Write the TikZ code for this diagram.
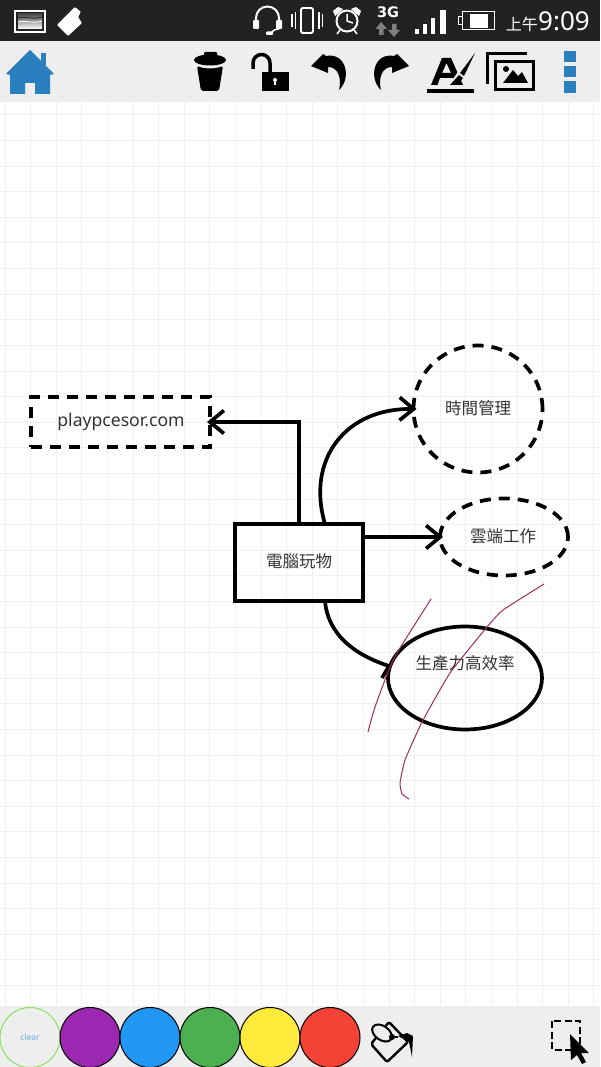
\documentclass[tikz,border=0pt]{standalone}
\usepackage{fontspec}
\setmainfont{Noto Sans}
\newfontfamily\cjk{Noto Sans CJK TC}
\newfontfamily\dejab{DejaVu Sans}
\usetikzlibrary{shapes.geometric,arrows.meta,calc}
\definecolor{statusbar}{HTML}{222222}
\definecolor{toolbar}{HTML}{EEEEEE}
\definecolor{gridc}{HTML}{F0F0F0}
\definecolor{homeblue}{HTML}{2A7FBF}
\definecolor{ink}{HTML}{333333}
\definecolor{pen}{HTML}{9C2F5C}
\definecolor{cpurple}{HTML}{9C27B0}
\definecolor{cblue}{HTML}{2196F3}
\definecolor{cgreen}{HTML}{4CAF50}
\definecolor{cyellow}{HTML}{FFEB3B}
\definecolor{cred}{HTML}{F44336}
\definecolor{clearg}{HTML}{8BE05A}
\definecolor{cleart}{HTML}{6FA8DC}
\tikzset{
  shapeline/.style={draw=black,line width=3.7pt,inner sep=0pt,outer sep=0pt},
  dashline/.style={shapeline,dash pattern=on 11pt off 8pt},
  label/.style={text=ink,inner sep=0pt,font=\cjk\fontsize{16.5}{18}\selectfont},
  conn/.style={draw=black,line width=3.7pt},
  arr/.style={conn,shorten >=-3pt,-{Straight Barb[length=14pt,width=23pt]}},
  penline/.style={draw=pen,line width=1pt,line cap=round,line join=round},
  swatch/.style={circle,draw=black,line width=1pt,minimum size=60pt,inner sep=0pt}
}
\begin{document}
\begin{tikzpicture}[x=1pt,y=-1pt]
\useasboundingbox (0,0) rectangle (600,1067);
\fill[white] (0,0) rectangle (600,1067);
% grid
\foreach \i in {0,...,23}
  \draw[gridc,line width=1pt] ({5+25.6*\i},102) -- ({5+25.6*\i},1006);
\foreach \i in {0,...,35}
  \draw[gridc,line width=1pt] (0,{115+25.6*\i}) -- (600,{115+25.6*\i});
% bars
\fill[statusbar] (0,0) rectangle (600,41);
\fill[toolbar] (0,41) rectangle (600,102);
\fill[toolbar] (0,1006) rectangle (600,1067);
% diagram nodes
\node[shapeline,minimum width=128pt,minimum height=77pt] (box) at (299,562.5) {};
\node[dashline,minimum width=179pt,minimum height=50pt] (site) at (120.5,422) {};
\node[dashline,ellipse,minimum width=129pt,minimum height=127pt] (time) at (478,409) {};
\node[dashline,ellipse,minimum width=128pt,minimum height=77pt] (cloud) at (504,537) {};
\node[shapeline,ellipse,minimum width=154pt,minimum height=103pt] (eff) at (465,678) {};
\node[label] (boxt) at (299,561) {電腦玩物};
\node[label,font=\fontsize{17.6}{19}\selectfont] (sitet) at (121,422) {playpcesor.com};
\node[label] (timet) at (478,408) {時間管理};
\node[label] (cloudt) at (503,536) {雲端工作};
\node[label] (efft) at (465,663) {生產力高效率};
\coordinate (efftip) at (389,666);
\coordinate (effbarb) at (382,678);
% connectors
\draw[arr] (box.north) |- (site.east);
\draw[arr] ([xshift=-38pt]box.north east) .. controls (306,460) and (345,408) .. (time.west);
\draw[arr] ([yshift=25.5pt]box.east) -- (cloud.west);
\draw[conn,line join=round] ([xshift=-38pt]box.south east) .. controls (328,635) and (355,655) .. (efftip) -- (effbarb);
% pen strokes
\draw[penline] plot[smooth,tension=0.4] coordinates {(431,599) (400,648) (390,667) (375,707) (368,732)};
\draw[penline] plot[smooth,tension=0.25] coordinates {(544,584) (503,610) (487,627) (450,673) (422,722) (405,760) (400,783) (402,794) (409,799)};
% status bar left
\draw[white,line width=1.5pt] (15,11) rectangle (45,32);
\shade[top color=gray!60!black,bottom color=white,shading angle=0] (18,14) rectangle (42,29);
\draw[gray!40!black,line width=1pt] (18,18) .. controls (26,16) and (34,20) .. (42,17);
\draw[white,line width=0.8pt] (18,22) .. controls (26,20) and (34,24) .. (42,21);
\fill[white,rounded corners=1pt] (57,25) -- (75,7) -- (81,12) -- (78,17) -- (82,23) -- (68,36) -- cycle;
% headphones
\draw[white,line width=2pt] (256,24) -- (256,18) arc[start angle=180,end angle=360,radius=11.5] -- (279,24);
\fill[white,rounded corners=1pt] (253,20) rectangle (259,29);
\fill[white,rounded corners=1pt] (276,20) rectangle (282,29);
\draw[white,line width=1.5pt] (279,29) to[bend right=30] (271,33.5);
\fill[white,rounded corners=1pt] (266,31.5) rectangle (273,35);
% vibrate
\draw[white,line width=1.2pt] (292,14) -- (292,27) (295.5,12) -- (295.5,29);
\draw[white,line width=1.8pt,rounded corners=1.5pt] (301,8) rectangle (313,33);
\draw[white,line width=1.2pt] (319,12) -- (319,29) (322.5,14) -- (322.5,27);
% alarm
\draw[white,line width=2pt] (347,21) circle[radius=10.5];
\draw[white,line width=1.5pt] (347,14) -- (347,21) -- (353,23);
\fill[white] (335,16) -- (333,11) -- (338,7) -- (343,9) -- cycle;
\fill[white] (359,16) -- (361,11) -- (356,7) -- (351,9) -- cycle;
\draw[white,line width=1.5pt] (340,30) -- (337,34) (354,30) -- (357,34);
% 3G
\node[inner sep=0pt,text=white,font=\dejab\bfseries\fontsize{14.5}{15}\selectfont] (threeg) at (388,12.5) {3G};
\fill[gray] (381,22) -- (387,29) -- (383.5,29) -- (383.5,35) -- (379,35) -- (379,29) -- (375.5,29) -- cycle;
\fill[gray] (394,37) -- (400,30) -- (396.5,30) -- (396.5,24) -- (392,24) -- (392,30) -- (388,30) -- cycle;
% signal
\fill[white] (415,29) rectangle (419,34);
\fill[white] (423,24) rectangle (427,34);
\fill[white] (431,18) rectangle (435,34);
\fill[white] (440,10) rectangle (446,34);
% battery
\draw[white,line width=1pt] (462,12) rectangle (494,30);
\draw[white,line width=1pt] (462,17) -- (458,17) -- (458,25) -- (462,25);
\fill[white] (470,14.5) rectangle (488,28);
% time
\node[inner sep=0pt,anchor=east,text=white,font=\fontsize{26}{28}\selectfont] (clock) at (590,21) {9:09};
\node[inner sep=0pt,anchor=east,text=white,font=\cjk\fontsize{16}{18}\selectfont] (ampm) at (538,24) {上午};
% home
\fill[homeblue] (40.7,53) rectangle (46,65);
\fill[homeblue] (6,74) -- (30,50) -- (54,74) -- (50,75) -- (50,94) -- (35,94) -- (35,83) -- (25,83) -- (25,94) -- (10,94) -- (10,75) -- cycle;
% trash
\fill[black,rounded corners=1pt] (204,56) rectangle (217,52);
\fill[black] (210,60) ellipse[x radius=16,y radius=5.5];
\fill[black,rounded corners=2pt] (197,66) .. controls (205,69) and (215,69) .. (223,66) -- (219,91) -- (201,91) -- cycle;
% lock
\draw[black,line width=3.5pt] (253,69) -- (253,63) arc[start angle=180,end angle=360,radius=8.5] -- (270,72);
\fill[black] (262,72) rectangle (289,91);
\fill[white] (275,80) circle[radius=2];
\fill[white] (274,80) rectangle (276,85);
% undo and redo
\fill[black] (311,66) -- (328,73) -- (328,67) .. controls (338,67) and (342,78) .. (339,90) .. controls (352,78) and (346,52) .. (326,56) -- (323,54) -- cycle;
\fill[black] (409,66) -- (392,73) -- (392,67) .. controls (382,67) and (378,78) .. (381,90) .. controls (368,78) and (374,52) .. (394,56) -- (397,54) -- cycle;
% text style icon
\fill[black,even odd rule] (431,85) -- (442,58) -- (451,58) -- (463,85) -- (456,85) -- (453,78) -- (440,78) -- (437.5,85) -- cycle (442,73) -- (451,73) -- (446.5,63) -- cycle;
\draw[toolbar,line width=6pt] (473,56) -- (451,87);
\fill[black] (475,53) -- (464,76) -- (460,73) -- cycle;
\fill[black] (459,75) -- (463,78) -- (458,85) -- (450,85) -- cycle;
\fill[black] (427,89) rectangle (474,93);
% image icon
\draw[black,line width=3pt] (527,54) -- (487.5,54) -- (487.5,84);
\draw[black,line width=3pt] (495,62) rectangle (533,90);
\fill[black] (503,83) -- (513,70) -- (518,76) -- (522,72) -- (528,83) -- cycle;
\fill[black] (506,69) circle[radius=3];
% menu
\fill[homeblue] (564,51) rectangle (576,62);
\fill[homeblue] (564,66) rectangle (576,77);
\fill[homeblue] (564,81) rectangle (576,93);
% palette
\node[swatch,draw=clearg,text=cleart,font=\fontsize{8.5}{10}\selectfont] (clear) at (30,1037.5) {clear};
\node[swatch,fill=cpurple] (purple) at (90,1037.5) {};
\node[swatch,fill=cblue] (blue) at (150,1037.5) {};
\node[swatch,fill=cgreen] (green) at (210,1037.5) {};
\node[swatch,fill=cyellow] (yellow) at (270,1037.5) {};
\node[swatch,fill=cred] (red) at (330,1037.5) {};
% bucket
\draw[black,line width=2.4pt,line join=round,rounded corners=2pt] (389,1022) -- (408,1042) -- (387,1062) -- (371,1044) -- cycle;
\fill[toolbar,rotate around={-35:(382,1033)}] (382,1033) ellipse[x radius=11,y radius=7];
\draw[black,line width=2pt,rotate around={-35:(382,1033)}] (382,1033) ellipse[x radius=11,y radius=7];
\fill[black] (392,1037) circle[radius=3];
\draw[black,line width=1.2pt] (392,1037) -- (398,1037);
\fill[black] (398,1036) -- (407,1033) -- (413,1036) -- (412,1057) -- (409,1042) -- cycle;
% select
\draw[black,line width=2.6pt,dash pattern=on 7pt off 3.5pt] (552,1021) rectangle (580,1050);
\fill[black] (570,1034) -- (589,1053) -- (581,1053) -- (586,1062) -- (582,1064) -- (577,1055) -- (571,1060) -- cycle;
\end{tikzpicture}
\end{document}
